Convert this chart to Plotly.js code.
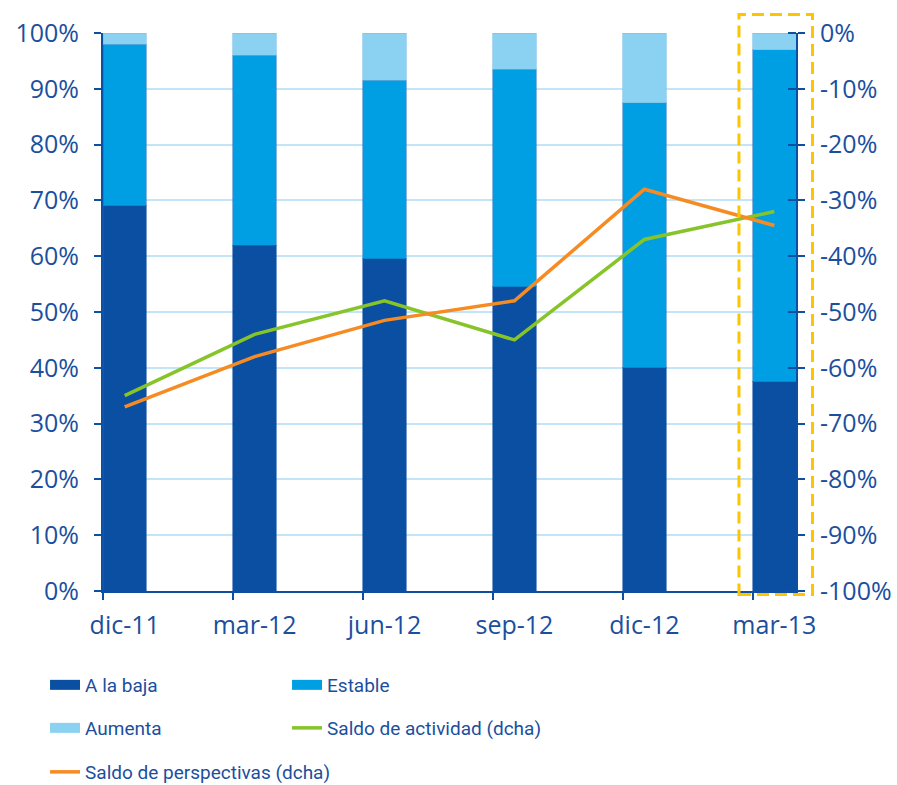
<!DOCTYPE html>
<html>
<head>
<meta charset="utf-8">
<script src="https://cdn.plot.ly/plotly-3.0.1.min.js"></script>
<style>html,body{margin:0;padding:0;background:#fff;}#chart{width:897px;height:785px;}</style>
</head>
<body>
<div id="chart"></div>
<script>
// ---- data ----
const categories = ['dic-11', 'mar-12', 'jun-12', 'sep-12', 'dic-12', 'mar-13'];
const aLaBaja = [69, 62, 59.5, 54.5, 40, 37.5];
const estable = [29, 34, 32, 39, 47.5, 59.5];
const aumenta = [2, 4, 8.5, 6.5, 12.5, 3];
const saldoActividad = [-65, -54, -48, -55, -37, -32];
const saldoPerspectivas = [-67, -58, -51.5, -48, -28, -34.5];
const leftTickVals = [0, 10, 20, 30, 40, 50, 60, 70, 80, 90, 100];
const leftTickText = ['0%', '10%', '20%', '30%', '40%', '50%', '60%', '70%', '80%', '90%', '100%'];
const rightTickVals = [0, -10, -20, -30, -40, -50, -60, -70, -80, -90, -100];
const rightTickText = ['0%', '-10%', '-20%', '-30%', '-40%', '-50%', '-60%', '-70%', '-80%', '-90%', '-100%'];
const seriesNames = ['A la baja', 'Estable', 'Aumenta', 'Saldo de actividad (dcha)', 'Saldo de perspectivas (dcha)'];

// ---- styles ----
const cDark = '#0a4fa1';
const cMid = '#009fe3';
const cLight = '#8ad1f2';
const cGreen = '#86c42a';
const cOrange = '#f78b23';
const cText = '#1b4f9e';
const cAxis = '#0d4fa0';
const tickFont = {family: 'Open Sans, sans-serif', size: 25, color: cText};
const legFont = {family: 'Roboto, Liberation Sans, sans-serif', size: 19, color: cText};

const xIdx = categories.map((c, i) => i);
const barW = 0.334;

const traces = [
  {type: 'bar', x: xIdx, y: aLaBaja, name: seriesNames[0], width: barW, marker: {color: cDark, line: {color: 'rgba(30,90,170,0.6)', width: 1}}, showlegend: false, hoverinfo: 'skip'},
  {type: 'bar', x: xIdx, y: estable, name: seriesNames[1], width: barW, marker: {color: cMid, line: {color: 'rgba(20,110,190,0.5)', width: 1}}, showlegend: false, hoverinfo: 'skip'},
  {type: 'bar', x: xIdx, y: aumenta, name: seriesNames[2], width: barW, marker: {color: cLight, line: {color: 'rgba(120,190,230,0.6)', width: 1}}, showlegend: false, hoverinfo: 'skip'},
  {type: 'scatter', mode: 'lines', x: xIdx, y: saldoActividad, yaxis: 'y2', name: seriesNames[3], line: {color: cGreen, width: 3.5}, showlegend: false, hoverinfo: 'skip'},
  {type: 'scatter', mode: 'lines', x: xIdx, y: saldoPerspectivas, yaxis: 'y2', name: seriesNames[4], line: {color: cOrange, width: 3.5}, showlegend: false, hoverinfo: 'skip'},
  // legend entries (no data drawn)
  {type: 'scatter', mode: 'lines', x: [null], y: [null], name: seriesNames[0], line: {color: cDark, width: 13}, legend: 'legend', legendwidth: 197, hoverinfo: 'skip'},
  {type: 'scatter', mode: 'lines', x: [null], y: [null], name: seriesNames[1], line: {color: cMid, width: 13}, legend: 'legend', legendwidth: 300, hoverinfo: 'skip'},
  {type: 'scatter', mode: 'lines', x: [null], y: [null], name: seriesNames[2], line: {color: cLight, width: 13}, legend: 'legend2', legendwidth: 197, hoverinfo: 'skip'},
  {type: 'scatter', mode: 'lines', x: [null], y: [null], name: seriesNames[3], line: {color: cGreen, width: 3.5}, legend: 'legend2', legendwidth: 300, hoverinfo: 'skip'},
  {type: 'scatter', mode: 'lines', x: [null], y: [null], name: seriesNames[4], line: {color: cOrange, width: 3.5}, legend: 'legend3', legendwidth: 400, hoverinfo: 'skip'}
];

const legBase = {orientation: 'h', traceorder: 'normal', xref: 'container', yref: 'container', x: 0.0502, xanchor: 'left', yanchor: 'middle',
  font: legFont, bgcolor: 'rgba(0,0,0,0)', borderwidth: 0, itemclick: false, itemdoubleclick: false};

const layout = {
  width: 897, height: 785,
  margin: {l: 103, r: 101, t: 33, b: 194, pad: 0},
  paper_bgcolor: '#fff', plot_bgcolor: '#fff',
  barmode: 'stack',
  showlegend: true,
  xaxis: {
    type: 'linear', range: [-0.167, 5.167], fixedrange: true,
    tickmode: 'array', tickvals: xIdx, ticktext: categories, ticks: '', ticklabelstandoff: 11,
    tickfont: tickFont, showgrid: false, zeroline: false,
    showline: true, linecolor: cAxis, linewidth: 2,
    minor: {tickmode: 'linear', tick0: -0.167, dtick: 1, ticks: 'outside', ticklen: 7, tickwidth: 2, tickcolor: cAxis, showgrid: false}
  },
  yaxis: {
    range: [0, 100], fixedrange: true, tickmode: 'array', tickvals: leftTickVals, ticktext: leftTickText,
    tickfont: tickFont, showgrid: true, gridcolor: '#c2e6f7', gridwidth: 2, zeroline: false, ticklabelstandoff: 10,
    showline: true, linecolor: cAxis, linewidth: 2, ticks: 'outside', ticklen: 7, tickwidth: 2, tickcolor: cAxis
  },
  yaxis2: {
    overlaying: 'y', side: 'right', anchor: 'x', range: [-100, 0], fixedrange: true,
    tickmode: 'array', tickvals: rightTickVals, ticktext: rightTickText, ticklabelstandoff: 10,
    tickfont: tickFont, showgrid: false, zeroline: false,
    showline: true, linecolor: cAxis, linewidth: 2, ticks: 'outside', ticklen: 7, tickwidth: 2, tickcolor: cAxis,
    minor: {tickmode: 'linear', tick0: 0, dtick: 10, ticks: 'inside', ticklen: 8, tickwidth: 2, tickcolor: cAxis, showgrid: false}
  },
  legend: Object.assign({}, legBase, {y: 1 - 685 / 785}),
  legend2: Object.assign({}, legBase, {y: 1 - 728 / 785}),
  legend3: Object.assign({}, legBase, {y: 1 - 772 / 785}),
  shapes: [{
    type: 'rect', xref: 'paper', yref: 'paper', x0: 0.9177, x1: 1.0238, y0: -0.0063, y1: 1.033,
    line: {color: '#fcc500', width: 3, dash: '12px,6px'}, fillcolor: 'rgba(0,0,0,0)', layer: 'above'
  }]
};

Plotly.newPlot('chart', traces, layout, {staticPlot: true, displayModeBar: false});
</script>
</body>
</html>
